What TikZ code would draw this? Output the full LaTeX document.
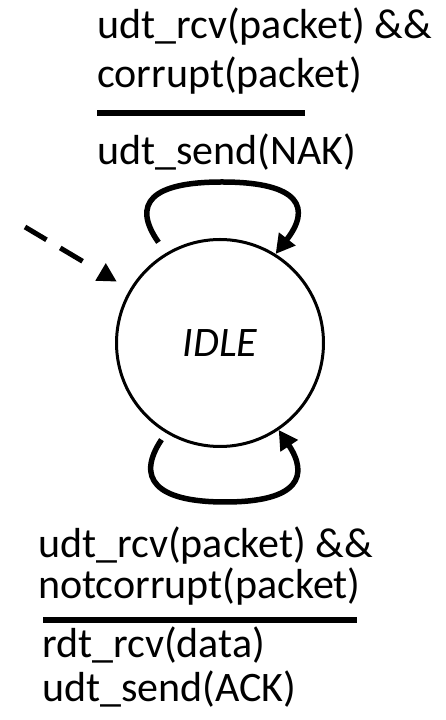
\documentclass[tikz,border=0pt]{standalone}
\usepackage{fontspec}
\setmainfont{Carlito}
\usetikzlibrary{%
  arrows.meta,%
  calc%
}
\tikzset{>={Triangle[length=19pt,width=20pt]},%
  fsmtext/.style={anchor=base west,inner sep=0pt,font=\fontsize{42}{50}\selectfont},%
  selfloop/.style={line width=5.5pt,->},%
  initarrow/.style={line width=5pt,dash pattern=on 25pt off 16pt on 26pt off 40pt,
    -{Triangle[length=19pt,width=19pt]}},%
  sepline/.style={line width=6pt}}

\begin{document}
\begin{tikzpicture}[x=1pt,y=1pt]
      \useasboundingbox (0,0) rectangle (445,720);
      \node[circle,draw,line width=3pt,minimum size=207pt,inner sep=0pt] (idle) at (220,377)
        {\fontsize{42}{50}\selectfont\itshape IDLE};
      \coordinate (start) at (25,493);
      \draw[initarrow,shorten >=15pt] (start) -- (idle);
      \coordinate (naktop) at ($(idle.center)+(2,161)$);
      \draw[selfloop,shorten <=13pt] (idle.121) .. controls +(-35,50) and +(-70,0) .. (naktop)
        .. controls +(80,0) and +(35,45) .. (idle.58);
      \coordinate (acklow) at ($(idle.center)+(5,-159)$);
      \draw[selfloop,shorten <=8pt] (idle.239) .. controls +(-30,-45) and +(-70,0) .. (acklow)
        .. controls +(75,0) and +(30,-45) .. (idle.304);
      \node[fsmtext] (nakcond1) at (97,681) {udt\_rcv(packet) \&\&};
      \node[fsmtext] (nakcond2) at (97,632) {corrupt(packet)};
      \draw[sepline] (97,606.5) -- (305,606.5);
      \node[fsmtext] (nakact) at (97,555) {udt\_send(NAK)};
      \node[fsmtext] (ackcond1) at (38,162) {udt\_rcv(packet) \&\&};
      \node[fsmtext] (ackcond2) at (38,121) {notcorrupt(packet)};
      \draw[sepline] (43,100) -- (357,100);
      \node[fsmtext] (ackact1) at (42,62) {rdt\_rcv(data)};
      \node[fsmtext] (ackact2) at (42,18) {udt\_send(ACK)};
    \end{tikzpicture}
\end{document}
